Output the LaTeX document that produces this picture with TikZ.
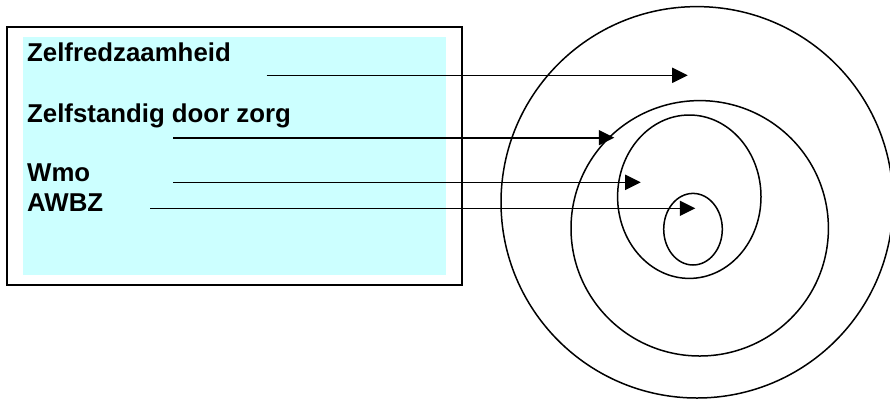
\documentclass[tikz,border=0pt]{standalone}
\usepackage{fontspec}
\setmainfont{Liberation Sans}
\usetikzlibrary{arrows.meta}
\definecolor{panelcyan}{HTML}{CCFFFF}
\begin{document}
\begin{tikzpicture}[x=1pt,y=-1pt,
  label/.style={anchor=base west,inner sep=0pt,font=\fontsize{25.8}{30}\bfseries\selectfont},
  pointer/.style={line width=1.6pt,-{Triangle[length=15.5pt,width=15pt]}},
  ring/.style={line width=1.5pt}]
\useasboundingbox (0,0) rectangle (890,400);

% framed panel with the list of terms
\fill[panelcyan] (22.7,36.7) rectangle (446,275);
\draw[line width=1.7pt] (7.3,27.3) rectangle (462.3,285);

\node[label] (zr) at (27,61) {Zelfredzaamheid};
\node[label] (zd) at (27,122) {Zelfstandig door zorg};
\node[label] (wmo) at (27,181) {Wmo};
\node[label] (awbz) at (27,211.7) {AWBZ};

% nested rings
\draw[ring] (697,202.3) ellipse [x radius=196pt, y radius=195.7pt];
\draw[ring] (699.7,228.3) ellipse [x radius=128.7pt, y radius=127.7pt];
\draw[ring] (689.3,196.7) ellipse [x radius=71.7pt, y radius=81.7pt];
\draw[ring] (693,229.2) ellipse [x radius=29.3pt, y radius=35.8pt];

% arrow start and end points
\coordinate (s1) at (266.7,75.3);
\coordinate (e1) at (687.7,75.3);
\coordinate (s2) at (173.3,137.7);
\coordinate (e2) at (614.3,137.7);
\coordinate (s3) at (173.3,182.3);
\coordinate (e3) at (640.7,182.3);
\coordinate (s4) at (150,208.3);
\coordinate (e4) at (695.3,208.3);

\draw[pointer] (s1) -- (e1);
\draw[pointer] (s2) -- (e2);
\draw[pointer] (s3) -- (e3);
\draw[pointer] (s4) -- (e4);
\end{tikzpicture}
\end{document}
